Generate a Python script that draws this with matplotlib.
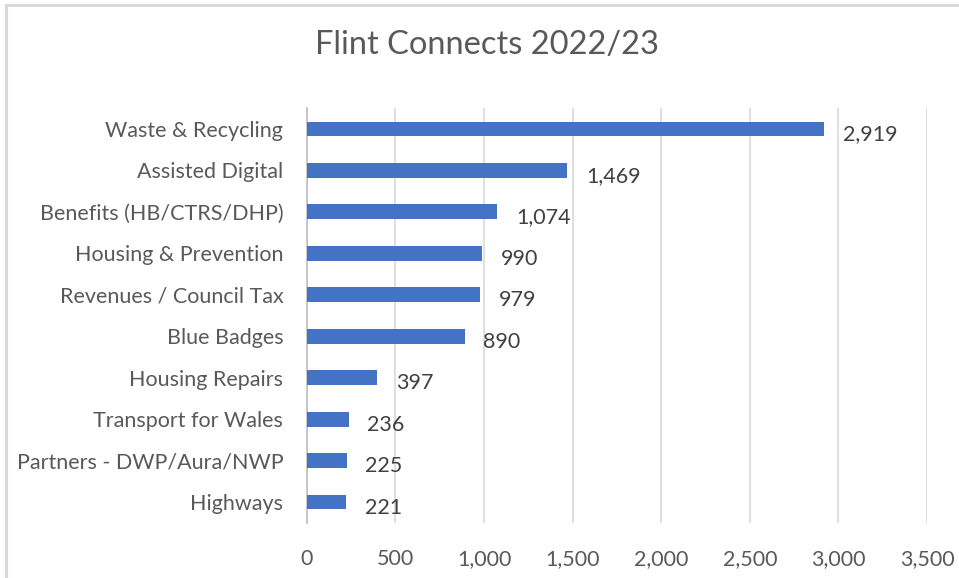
import numpy as np
import matplotlib.pyplot as plt
from matplotlib.patches import Rectangle

plt.rcParams['font.family'] = ['Lato', 'DejaVu Sans']

# --- data (top to bottom as shown)
categories = ['Waste & Recycling', 'Assisted Digital', 'Benefits (HB/CTRS/DHP)',
              'Housing & Prevention', 'Revenues / Council Tax', 'Blue Badges',
              'Housing Repairs', 'Transport for Wales', 'Partners - DWP/Aura/NWP',
              'Highways']
values = [2919, 1469, 1074, 990, 979, 890, 397, 236, 225, 221]
xticks = [0, 500, 1000, 1500, 2000, 2500, 3000, 3500]

txt = '#595959'
grid = '#D9D9D9'
fs = 15.5

fig = plt.figure(figsize=(9.59, 5.78), dpi=100)
ax = fig.add_axes([0.320, 0.0957, 0.6466, 0.7169])

# chart frame (cut off at right/bottom like the reference)
fig.patches.append(Rectangle((6/959, -0.05), 1.2, 1 - 5/578 + 0.05,
                             transform=fig.transFigure, fill=False,
                             edgecolor='#D9D9D9', lw=2.2))

y = np.arange(len(categories))
ax.barh(y, values, height=0.36, color='#4472C4', zorder=3)
ax.set_yticks(y)
ax.set_yticklabels(categories, fontsize=fs, color=txt)
ax.set_ylim(len(categories) - 0.5, -0.5)

ax.set_xlim(0, 3500)
ax.set_xticks(xticks)
ax.set_xticklabels([f'{v:,}' for v in xticks], fontsize=fs, color=txt)
ax.grid(axis='x', color=grid, lw=1.2, zorder=0)
ax.tick_params(length=0)
ax.tick_params(axis='y', pad=17)
ax.tick_params(axis='x', pad=19)

for s in ['top', 'right', 'bottom']:
    ax.spines[s].set_visible(False)
ax.spines['left'].set_color('#BFBFBF')
ax.spines['left'].set_linewidth(1.2)

for yi, v in zip(y, values):
    ax.annotate(f'{v:,}', (v, yi), xytext=(13.5, -4), textcoords='offset points',
                ha='left', va='center', fontsize=fs, color='#404040')

fig.text(0.508, 0.922, 'Flint Connects 2022/23', ha='center', va='center',
         fontsize=23.5, color=txt)

fig.savefig('out.png', dpi=100)
